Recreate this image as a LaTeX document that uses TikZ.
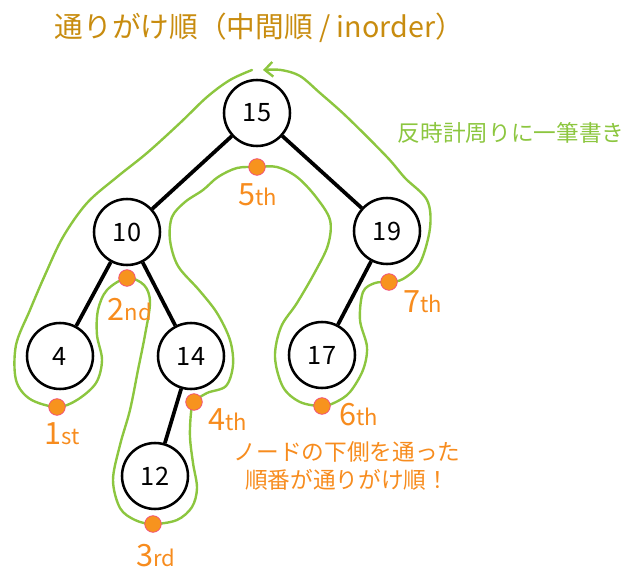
\documentclass[tikz,border=0pt]{standalone}
\usepackage{fontspec}
\setmainfont{Noto Sans CJK JP}
\usetikzlibrary{arrows.meta}

\definecolor{titlegold}{RGB}{200,140,15}
\definecolor{walkgreen}{RGB}{140,198,63}
\definecolor{dotorange}{RGB}{247,147,30}
\definecolor{dotpink}{RGB}{240,70,130}
\definecolor{noteorange}{RGB}{247,140,30}

\newcommand{\ordlabel}[2]{{\fontsize{23}{25}\selectfont #1}{\fontsize{16.5}{18}\selectfont #2}}

\begin{document}
\begin{tikzpicture}[x=0.75pt,y=-0.75pt,
  vertex/.style={circle,draw,line width=1.9pt,minimum size=49.5pt,inner sep=0pt,
    fill=white,font=\fontsize{19}{22}\selectfont},
  branch/.style={line width=2.8pt},
  visit/.style={circle,draw=dotpink,fill=dotorange,line width=0.5pt,
    minimum size=12.5pt,inner sep=0pt},
  order/.style={text=noteorange,inner sep=0pt},
  walk/.style={walkgreen,line width=1.8pt,line cap=round,line join=round}]
  \useasboundingbox (0,0) rectangle (640,579);

  \node[anchor=west,text=titlegold,font=\fontsize{21.5}{24}\selectfont] (title) at (50,28)
    {通りがけ順（中間順 / inorder）};

  % tree
  \node[vertex] (n15) at (257,113) {15};
  \node[vertex] (n10) at (127,232) {10};
  \node[vertex] (n19) at (387,231) {19};
  \node[vertex] (n4)  at (60,356)  {4};
  \node[vertex] (n14) at (191,356) {14};
  \node[vertex] (n17) at (322,355) {17};
  \node[vertex] (n12) at (155,476) {12};

  \draw[branch] (n15) -- (n10);
  \draw[branch] (n15) -- (n19);
  \draw[branch] (n10) -- (n4);
  \draw[branch] (n10) -- (n14);
  \draw[branch] (n14) -- (n12);
  \draw[branch] (n19) -- (n17);

  % points under each node
  \coordinate (v1) at (57,407);
  \coordinate (v2) at (127,278);
  \coordinate (v3) at (153,524);
  \coordinate (v4) at (194,402);
  \coordinate (v5) at (257,167);
  \coordinate (v6) at (322,406);
  \coordinate (v7) at (389,282);

  \draw[walk,-{Straight Barb[length=6pt,width=11pt]}] plot[smooth,tension=0.55] coordinates {
    (252,70) (230,80) (207,97) (180,123) (147,153) (117,177) (87,203) (63,237)
    (45,275) (30,310) (16,345) (16,380) (30,399) (v1)
    (77,400) (96,383) (102,360) (97,335) (98,310) (107,290) (v2)
    (144,285) (150,302) (145,335) (138,370) (130,410) (120,445) (113,480)
    (120,508) (135,520) (v3)
    (177,520) (192,507) (197,488) (193,463) (190,437) (191,413) (v4)
    (207,393) (226,386) (233,365) (230,340) (217,313) (199,290) (178,266)
    (170,240) (172,217) (185,202) (203,190) (218,177) (237,168) (v5)
    (277,167) (297,177) (316,197) (330,220) (328,245) (315,272) (297,303)
    (281,327) (275,357) (283,387) (300,402) (v6)
    (336,402) (350,392) (363,370) (367,347) (360,320) (363,292) (375,283) (v7)
    (403,279) (420,263) (430,228) (427,200) (405,178) (387,157) (347,117)
    (320,93) (300,76) (281,70) (263,70)};

  \foreach \k in {1,...,7}
    \node[visit] (d\k) at (v\k) {};

  \node[order] (o1) at (62,434) {\ordlabel{1}{st}};
  \node[order] (o2) at (130,310) {\ordlabel{2}{nd}};
  \node[order] (o3) at (156,556) {\ordlabel{3}{rd}};
  \node[order] (o4) at (228,420) {\ordlabel{4}{th}};
  \node[order] (o5) at (258,195) {\ordlabel{5}{th}};
  \node[order] (o6) at (359,415) {\ordlabel{6}{th}};
  \node[order] (o7) at (423,302) {\ordlabel{7}{th}};

  \node[anchor=west,text=walkgreen,font=\fontsize{17}{20}\selectfont] (hint) at (393,133)
    {反時計周りに一筆書き};
  \node[text=noteorange,align=center,font=\fontsize{17}{21}\selectfont] (note) at (347,466)
    {ノードの下側を通った\\順番が通りがけ順！};
\end{tikzpicture}
\end{document}
